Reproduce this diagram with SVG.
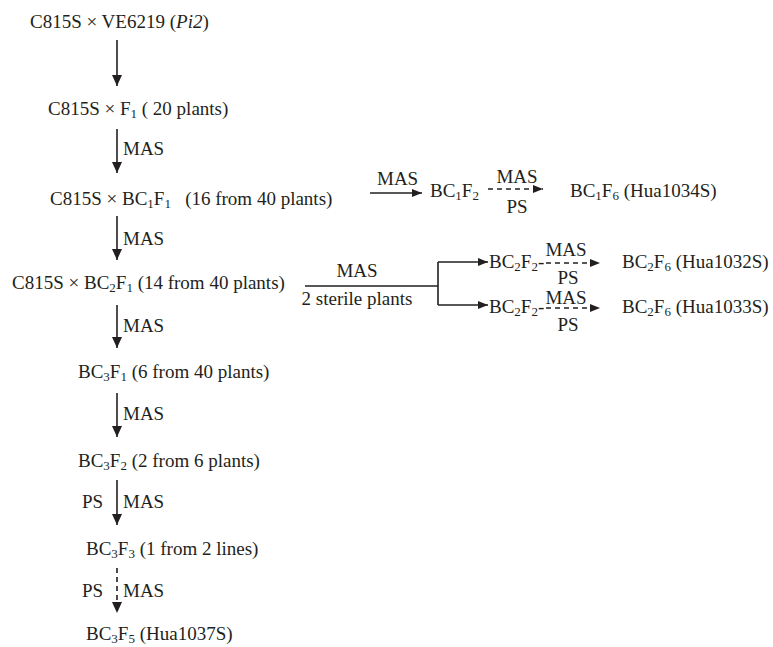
<svg xmlns="http://www.w3.org/2000/svg" width="773" height="647" viewBox="0 0 773 647">
<style>
text{font-family:Liberation Serif,Times New Roman,Times,FreeSerif,Tinos,serif;font-size:19px;fill:#231f20}
.s{font-size:13px}
.ln{stroke:#231f20;stroke-width:1.6;fill:none}
.d{stroke-dasharray:5,4}
</style>
<defs>
<marker id="av" markerUnits="userSpaceOnUse" markerWidth="12" markerHeight="12" viewBox="0 0 12 12" refX="11" refY="6" orient="auto">
<path d="M0,1 L11,6 L0,11 Z" fill="#231f20"/>
</marker>
<marker id="ah" markerUnits="userSpaceOnUse" markerWidth="11" markerHeight="10" viewBox="0 0 11 10" refX="10" refY="5" orient="auto">
<path d="M0,1 L10,5 L0,9 Z" fill="#231f20"/>
</marker>
</defs>
<rect width="773" height="647" fill="#fff"/>
<g id="n1"><text x="30" y="28">C815S × VE6219 (<tspan font-style="italic">Pi2</tspan>)</text></g>
<g id="n2"><text x="48" y="115">C815S × F<tspan class="s" dy="3">1</tspan><tspan dy="-3"> ( 20 plants)</tspan></text></g>
<g id="n3"><text x="50" y="205">C815S × BC<tspan class="s" dy="3">1</tspan><tspan dy="-3">F</tspan><tspan class="s" dy="3">1</tspan><tspan dy="-3" xml:space="preserve">   (16 from 40 plants)</tspan></text></g>
<g id="n4"><text x="12" y="289">C815S × BC<tspan class="s" dy="3">2</tspan><tspan dy="-3">F</tspan><tspan class="s" dy="3">1</tspan><tspan dy="-3"> (14 from 40 plants)</tspan></text></g>
<g id="n5"><text x="78" y="378">BC<tspan class="s" dy="3">3</tspan><tspan dy="-3">F</tspan><tspan class="s" dy="3">1</tspan><tspan dy="-3"> (6 from 40 plants)</tspan></text></g>
<g id="n6"><text x="78" y="467">BC<tspan class="s" dy="3">3</tspan><tspan dy="-3">F</tspan><tspan class="s" dy="3">2</tspan><tspan dy="-3"> (2 from 6 plants)</tspan></text></g>
<g id="n7"><text x="86" y="555">BC<tspan class="s" dy="3">3</tspan><tspan dy="-3">F</tspan><tspan class="s" dy="3">3</tspan><tspan dy="-3"> (1 from 2 lines)</tspan></text></g>
<g id="n8"><text x="86" y="640">BC<tspan class="s" dy="2.5">3</tspan><tspan dy="-2.5">F</tspan><tspan class="s" dy="2.5">5</tspan><tspan dy="-2.5"> (Hua1037S)</tspan></text></g>
<g id="n9"><text x="430" y="197">BC<tspan class="s" dy="3">1</tspan><tspan dy="-3">F</tspan><tspan class="s" dy="3">2</tspan></text></g>
<g id="n10"><text x="570" y="197">BC<tspan class="s" dy="3">1</tspan><tspan dy="-3">F</tspan><tspan class="s" dy="3">6</tspan><tspan dy="-3"> (Hua1034S)</tspan></text></g>
<g id="n11"><text x="489" y="268">BC<tspan class="s" dy="3">2</tspan><tspan dy="-3">F</tspan><tspan class="s" dy="3">2</tspan><tspan dy="-3">-</tspan></text></g>
<g id="n12"><text x="622" y="268">BC<tspan class="s" dy="3">2</tspan><tspan dy="-3">F</tspan><tspan class="s" dy="3">6</tspan><tspan dy="-3"> (Hua1032S)</tspan></text></g>
<g id="n13"><text x="489" y="313">BC<tspan class="s" dy="3">2</tspan><tspan dy="-3">F</tspan><tspan class="s" dy="3">2</tspan><tspan dy="-3">-</tspan></text></g>
<g id="n14"><text x="622" y="313">BC<tspan class="s" dy="3">2</tspan><tspan dy="-3">F</tspan><tspan class="s" dy="3">6</tspan><tspan dy="-3"> (Hua1033S)</tspan></text></g>
<g id="connectors">
<line class="ln" x1="117" y1="40" x2="117" y2="86" marker-end="url(#av)"/>
<line class="ln" x1="117" y1="129" x2="117" y2="173" marker-end="url(#av)"/>
<line class="ln" x1="117" y1="216" x2="117" y2="260" marker-end="url(#av)"/>
<line class="ln" x1="117" y1="305" x2="117" y2="348" marker-end="url(#av)"/>
<line class="ln" x1="117" y1="393" x2="117" y2="437" marker-end="url(#av)"/>
<line class="ln" x1="117" y1="480" x2="117" y2="525" marker-end="url(#av)"/>
<line class="ln d" x1="117" y1="568" x2="117" y2="613" marker-end="url(#av)"/>
<line class="ln" x1="370" y1="193" x2="422" y2="193" marker-end="url(#ah)"/>
<line class="ln d" x1="488" y1="189" x2="543" y2="189" marker-end="url(#ah)"/>
<polyline class="ln" points="305,286 438,286"/>
<polyline class="ln" points="438,262 438,305"/>
<line class="ln" x1="438" y1="262" x2="488" y2="262" marker-end="url(#ah)"/>
<line class="ln" x1="438" y1="305" x2="488" y2="305" marker-end="url(#ah)"/>
<line class="ln d" x1="546" y1="263" x2="600" y2="263" marker-end="url(#ah)"/>
<line class="ln d" x1="546" y1="308" x2="600" y2="308" marker-end="url(#ah)"/>
<text x="123" y="155">MAS</text>
<text x="123" y="245">MAS</text>
<text x="123" y="332">MAS</text>
<text x="123" y="420">MAS</text>
<text x="82" y="508">PS</text>
<text x="123" y="508">MAS</text>
<text x="82" y="597">PS</text>
<text x="123" y="597">MAS</text>
<text x="377" y="185">MAS</text>
<text x="517" y="183" text-anchor="middle">MAS</text>
<text x="517" y="213" text-anchor="middle">PS</text>
<text x="357" y="277" text-anchor="middle">MAS</text>
<text x="357" y="305" text-anchor="middle">2 sterile plants</text>
<text x="566" y="256" text-anchor="middle">MAS</text>
<text x="568" y="284" text-anchor="middle">PS</text>
<text x="566" y="304" text-anchor="middle">MAS</text>
<text x="568" y="331" text-anchor="middle">PS</text>
</g>
</svg>
